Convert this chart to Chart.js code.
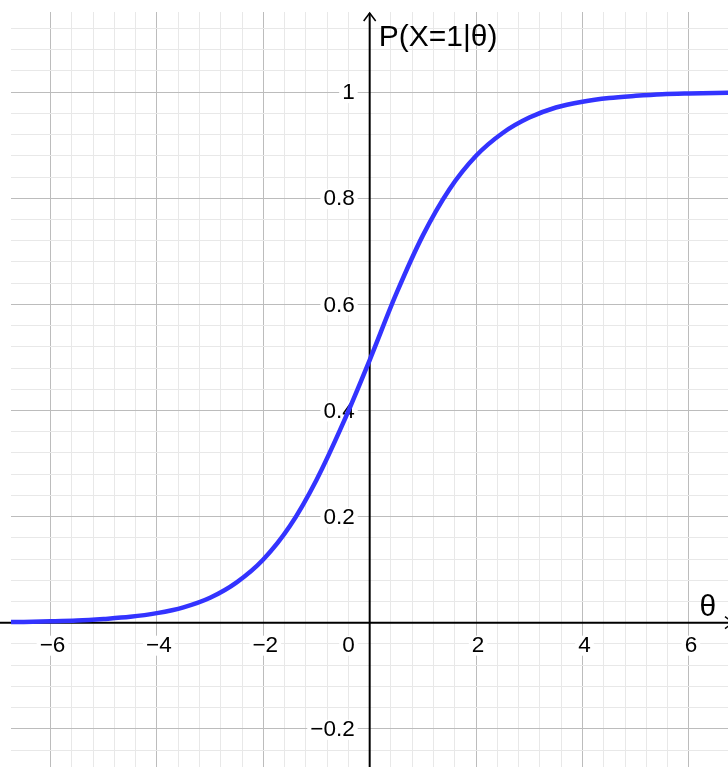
<!DOCTYPE html>
<html>

<head>
    <meta charset="utf-8">
    <title>P(X=1|θ)</title>
    <script src="https://cdn.jsdelivr.net/npm/chart.js@4.4.1/dist/chart.umd.min.js"></script>
    <style>
        body { margin: 0; background: #fff; }
        #wrap { width: 728px; height: 767px; position: relative; }
    </style>
</head>

<body>
    <div id="wrap">
        <canvas id="myChart"></canvas>
    </div>
    <script>
    // curve
    const thetas = [-7, -6.5, -6, -5.5, -5, -4.5, -4, -3.5, -3, -2.5, -2, -1.5, -1, -0.5, 0,
        0.5, 1, 1.5, 2, 2.5, 3, 3.5, 4, 4.5, 5, 5.5, 6, 6.5, 7];
    const probs = [0.001, 0.0015, 0.0025, 0.004, 0.007, 0.011, 0.018, 0.029, 0.047, 0.076, 0.119, 0.182, 0.269, 0.376, 0.495,
        0.62, 0.73, 0.817, 0.88, 0.923, 0.952, 0.971, 0.982, 0.989, 0.993, 0.996, 0.9975, 0.9985, 0.999];

    // tick labels
    const xTickValues = [-6, -4, -2, 2, 4, 6];
    const yTickValues = [-0.2, 0.2, 0.4, 0.6, 0.8, 1];
    const xAxisTitle = 'θ';
    const yAxisTitle = 'P(X=1|θ)';

    const points = thetas.map((t, i) => ({ x: t, y: probs[i] }));

    const isMultiple = (v, step) => Math.abs(v / step - Math.round(v / step)) < 1e-6;
    const fmt = v => (v < 0 ? '\u2212' : '') + String(Math.abs(v));

    //grid colour: major lines every 2 / 0.2, minor every 0.4 / 0.04
    const gridColor = (major, minor) => ctx => {
        const v = ctx.tick.value;
        if (isMultiple(v, major)) return '#bcbcbc';
        if (isMultiple(v, minor)) return '#e8e8e8';
        return 'rgba(0,0,0,0)';
    };

    const labelFont = '22.5px "Liberation Sans", Arial, sans-serif';
    const titleFont = '30px "Liberation Sans", Arial, sans-serif';

    function boxedText(ctx, txt, x, y, align) {
        ctx.textAlign = align;
        ctx.textBaseline = 'middle';
        const w = ctx.measureText(txt).width;
        let left = align === 'right' ? x - w : (align === 'center' ? x - w / 2 : x);
        ctx.fillStyle = '#fff';
        ctx.fillRect(left - 3, y - 10, w + 6, 20);
        ctx.fillStyle = '#000';
        ctx.fillText(txt, x, y);
    }

    const axesPlugin = {
        id: 'axes',
        beforeDatasetsDraw(chart) {
            const ctx = chart.ctx;
            const xs = chart.scales.x, ys = chart.scales.y;
            const area = chart.chartArea;
            const x0 = xs.getPixelForValue(0);
            const y0 = ys.getPixelForValue(0);

            ctx.save();
            // labels with white boxes behind them
            ctx.font = labelFont;
            xTickValues.forEach(v => {
                boxedText(ctx, fmt(v), xs.getPixelForValue(v) + 2, y0 + 23, 'center');
            });
            boxedText(ctx, '0', x0 - 15, y0 + 23, 'right');
            yTickValues.forEach(v => {
                boxedText(ctx, fmt(v), x0 - 15, ys.getPixelForValue(v) + 1, 'right');
            });

            // axes lines
            ctx.strokeStyle = '#000';
            ctx.lineWidth = 2;
            ctx.beginPath();
            ctx.moveTo(area.left - 11, y0);
            ctx.lineTo(area.right + 5, y0);
            ctx.moveTo(x0, area.bottom);
            ctx.lineTo(x0, area.top + 1);
            ctx.stroke();

            // arrow heads
            ctx.lineWidth = 1.5;
            ctx.beginPath();
            ctx.moveTo(x0 - 6, area.top + 9);
            ctx.lineTo(x0, area.top + 1);
            ctx.lineTo(x0 + 6, area.top + 9);
            ctx.moveTo(area.right - 3, y0 - 6);
            ctx.lineTo(area.right + 5, y0);
            ctx.lineTo(area.right - 3, y0 + 6);
            ctx.stroke();

            // axis titles
            ctx.font = titleFont;
            ctx.textBaseline = 'alphabetic';
            ctx.textAlign = 'left';
            ctx.fillStyle = '#000';
            ctx.fillText(yAxisTitle, x0 + 9, 46);
            ctx.fillText(xAxisTitle, xs.getPixelForValue(6.2), y0 - 7);
            ctx.restore();
        }
    };

    let chartCtx = document.getElementById('myChart').getContext('2d');
    let chart = new Chart(chartCtx, {
        type: 'line',
        data: {
            datasets: [{
                data: points,
                borderColor: '#3333ff',
                borderWidth: 4.5,
                pointRadius: 0,
                cubicInterpolationMode: 'monotone',
                fill: false
            }]
        },
        options: {
            responsive: true,
            maintainAspectRatio: false,
            animation: false,
            events: [],
            layout: { padding: { left: 11, top: 12, right: 0, bottom: 0 } },
            plugins: { legend: { display: false }, tooltip: { enabled: false } },
            scales: {
                x: {
                    type: 'linear',
                    min: -6.742,
                    max: 6.735,
                    ticks: { display: false, stepSize: 0.4 },
                    border: { display: false },
                    grid: { drawTicks: false, color: gridColor(2, 0.4), lineWidth: 1 }
                },
                y: {
                    type: 'linear',
                    min: -0.272,
                    max: 1.151,
                    ticks: { display: false, stepSize: 0.04 },
                    border: { display: false },
                    grid: { drawTicks: false, color: gridColor(0.2, 0.04), lineWidth: 1 }
                }
            }
        },
        plugins: [axesPlugin]
    });
    </script>
</body>

</html>
